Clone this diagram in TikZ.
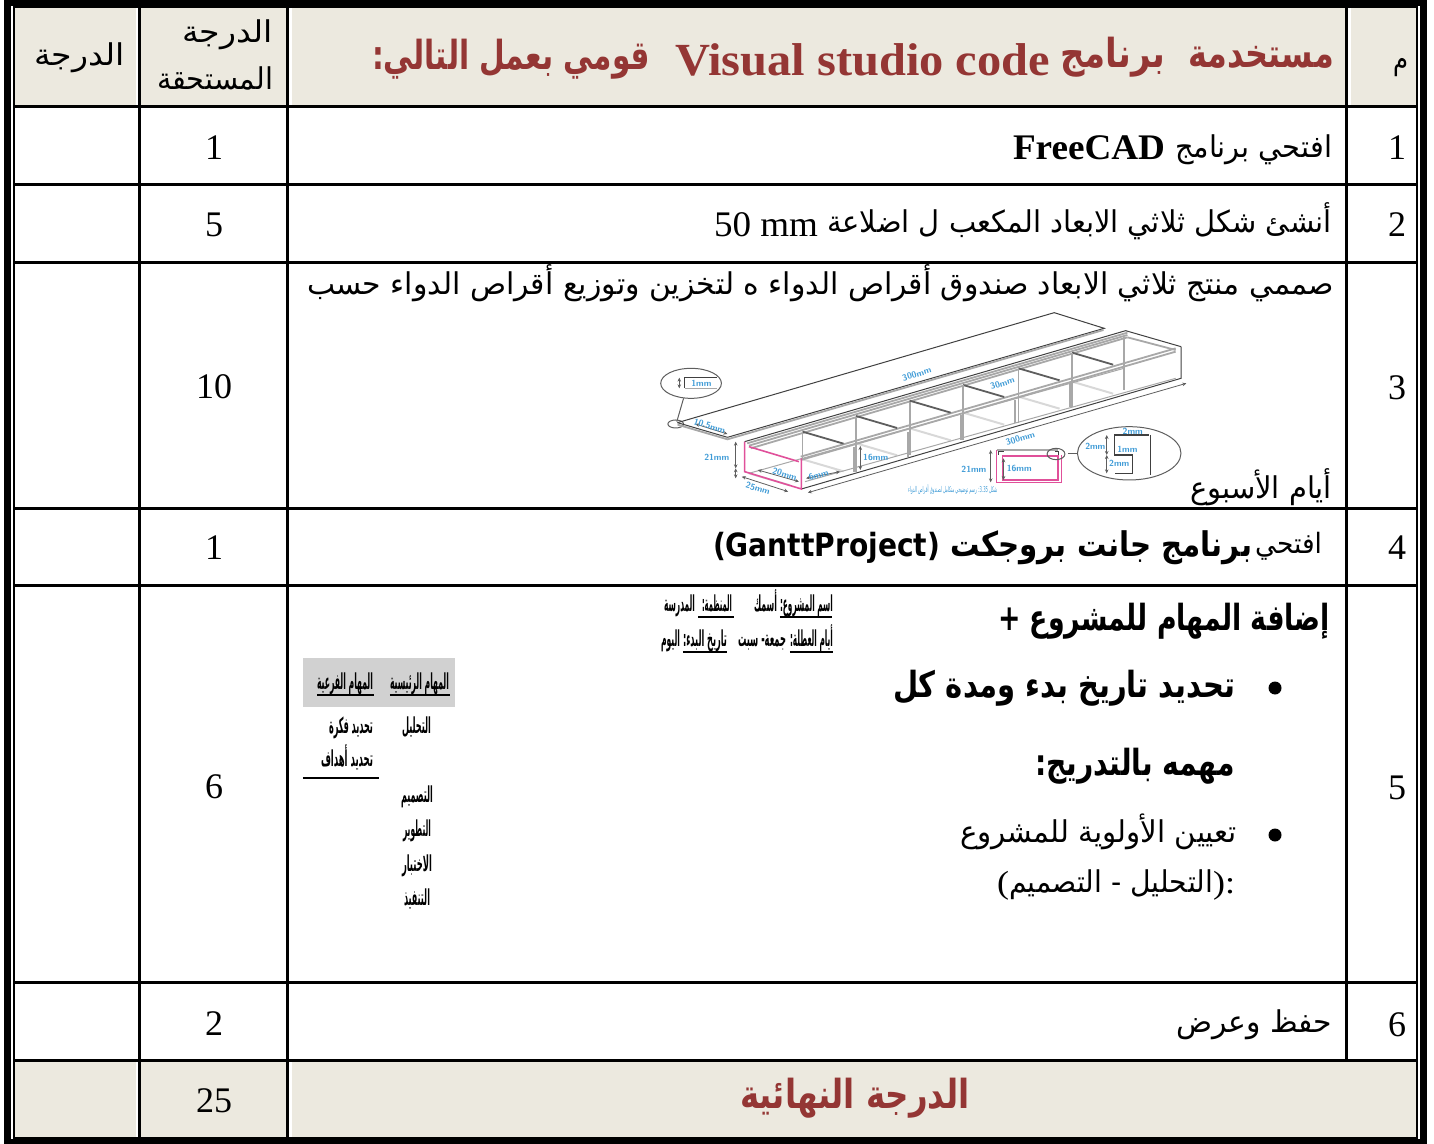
\documentclass[tikz,border=0pt]{standalone}
\usepackage{fontspec}
\usepackage{graphicx}
\usetikzlibrary{arrows.meta}
\setmainfont{Liberation Serif}
\newfontfamily\arabicfont[Script=Arabic]{DejaVu Sans}
\newfontfamily\ganttfont{DejaVu Sans}
\TeXXeTstate=1
\newlength\pxu \pxu=0.5pt
\definecolor{headfill}{HTML}{ECE9DF}
\definecolor{titlered}{HTML}{943634}
\definecolor{dimblue}{HTML}{3F9BD6}
\definecolor{boxpink}{HTML}{E0509A}
\definecolor{boxgrey}{HTML}{A8A8A8}
\definecolor{boxpale}{HTML}{D8D8D8}
\definecolor{boxdark}{HTML}{5E5E5E}
% #1 width in px, #2 font size in pt, #3 text
\newcommand\arw[3]{\resizebox{#1\pxu}{\height}{\fontsize{#2pt}{#2pt}\selectfont\arabicfont #3}}
\newcommand\arb[3]{\resizebox{#1\pxu}{\height}{\fontsize{#2pt}{#2pt}\selectfont\arabicfont\bfseries #3}}
\newcommand\lat[3]{\resizebox{#1\pxu}{\height}{\fontsize{#2pt}{#2pt}\selectfont #3}}
\newcommand\smar[2]{\arb{#1}{11}{#2}}
\tikzset{
  txt/.style={inner sep=0pt,outer sep=0pt,anchor=base west},
  num/.style={inner sep=0pt,outer sep=0pt,anchor=base,font=\fontsize{18pt}{18pt}\selectfont},
  grid/.style={line width=1.5pt,black},
  dim/.style={font=\fontsize{4.4pt}{5pt}\selectfont\bfseries\sffamily,text=dimblue,inner sep=0pt},
  dimline/.style={draw=boxdark,line width=0.4pt,{Stealth[length=2pt,width=1.8pt]}-{Stealth[length=2pt,width=1.8pt]}},
  thin1/.style={draw=boxgrey,line width=0.5pt},
  thin2/.style={draw=boxgrey,line width=0.9pt},
  pale/.style={draw=boxpale,line width=1pt},
  divider/.style={draw=boxdark,line width=0.9pt},
  outlinek/.style={draw=black!75,line width=0.5pt},
  pinkl/.style={draw=boxpink,line width=0.8pt},
  dotb/.style={circle,fill=black,inner sep=0pt,minimum size=6.5pt}
}
\begin{document}
\begin{tikzpicture}[x=0.5pt,y=-0.5pt]
\useasboundingbox (0,0) rectangle (1434,1144);
% fills
\fill[headfill] (15,8) rectangle (136,105);
\fill[headfill] (141,8) rectangle (286,105);
\fill[headfill] (292,8) rectangle (1345,105);
\fill[headfill] (1351,8) rectangle (1416,105);
\fill[headfill] (15,1062) rectangle (136,1137);
\fill[headfill] (141,1062) rectangle (286,1137);
\fill[headfill] (292,1062) rectangle (1416,1137);
% frame
\draw[black,line width=3.5pt] (7.5,2.5) rectangle (1423.5,1142.5);
\draw[black,line width=1pt] (14,7) rectangle (1417,1138);
% grid
\foreach \yy in {106.5,185,263,508,585,982,1060.5} \draw[grid] (14,\yy) -- (1417,\yy);
\foreach \xx in {139.5,287.5} \draw[grid] (\xx,7) -- (\xx,1138);
\draw[grid] (1346.5,7) -- (1346.5,1060);
% first column text
\node[txt] (hA) at (34,66) {\arw{91}{15}{\beginR الدرجة\endR}};
\node[txt] (hB1) at (182,43) {\arw{91}{15}{\beginR الدرجة\endR}};
\node[txt] (hB2) at (157,90) {\arw{116}{15}{\beginR المستحقة\endR}};
\node[txt] (hM) at (1393,70) {\arw{15}{15}{\beginR م\endR}};
% title
\begin{scope}[text=titlered,color=titlered]
\node[txt] (t1) at (1188,68) {\arb{146}{20}{\beginR مستخدمة\endR}};
\node[txt] (t2) at (1060,68) {\arb{105}{20}{\beginR برنامج\endR}};
\node[txt] (t3) at (675,76) {\lat{375}{23}{\bfseries Visual studio code}};
\node[txt] (t4) at (372,70) {\arb{278}{20}{\beginR قومي بعمل التالي:\endR}};
\node[txt] (tf) at (740,1108) {\arb{230}{20}{\beginR الدرجة النهائية\endR}};
\end{scope}
% row numbers
\foreach \n/\yy in {1/160,2/237,3/400,4/559,5/799,6/1036} \node[num] (idx\n) at (1397,\yy) {\n};
\node[num] (gA) at (214,160) {1};
\node[num] (gB) at (214,237) {5};
\node[num] (gC) at (214,399) {10};
\node[num] (gD) at (214,559) {1};
\node[num] (gE) at (214,798) {6};
\node[num] (gF) at (214,1035) {2};
\node[num] (gG) at (214,1112) {25};
% rows
\node[txt] (r1a) at (1175,158) {\arw{157}{15}{\beginR افتحي برنامج\endR}};
\node[txt] (r1b) at (1013,160) {\lat{152}{18}{\bfseries FreeCAD}};
\node[txt] (r2a) at (827,233) {\arw{505}{15}{\beginR أنشئ شكل ثلاثي الابعاد المكعب ل اضلاعة\endR}};
\node[txt] (r2b) at (714,237) {\lat{104}{18}{50 mm}};
\node[txt] (r3a) at (307,295) {\arw{1027}{15}{\beginR صممي منتج ثلاثي الابعاد صندوق أقراص الدواء ه لتخزين وتوزيع أقراص الدواء حسب\endR}};
\node[txt] (r3b) at (1190,498) {\arw{142}{15}{\beginR أيام الأسبوع\endR}};
\node[txt] (r4a) at (1255,553) {\arw{67}{14}{\beginR افتحي\endR}};
\node[txt] (r4b) at (950,556) {\arb{302}{17}{\beginR برنامج جانت بروجكت\endR}};
\node[txt] (r4c) at (713,556) {\lat{227}{16}{\ganttfont\bfseries (GanttProject)}};
\node[txt] (r5a) at (998,630) {\arb{332}{18}{\beginR إضافة المهام للمشروع +\endR}};
\node[dotb] (b1) at (1275,688) {};
\node[txt] (r5b) at (893,697) {\arb{342}{18}{\beginR تحديد تاريخ بدء ومدة كل\endR}};
\node[txt] (r5c) at (1035,775) {\arb{200}{18}{\beginR مهمه بالتدريج:\endR}};
\node[dotb] (b2) at (1275,835) {};
\node[txt] (r5d) at (960,842) {\arw{277}{15}{\beginR تعيين الأولوية للمشروع\endR}};
\node[txt] (r5e1) at (997,893) {\lat{12}{16}{(}};
\node[txt] (r5e2) at (1009,892) {\arw{204}{15}{\beginR التحليل - التصميم\endR}};
\node[txt] (r5e3) at (1213,893) {\lat{22}{16}{):}};
\node[txt] (r6a) at (1176,1032) {\arw{156}{15}{\beginR حفظ وعرض\endR}};
% small image text, row 5 (top)
\begin{scope}[shift={(290,590)},x=0.5pt/2.8,y=-0.5pt/3]
\fill[black!18] (36,203) rectangle (463,352);
\foreach \a/\b/\yy in {1372/1518/80,1143/1243/80,1400/1520/185,1100/1223/185,280/448/316,76/235/316,36/248/565} \draw[line width=1pt] (\a,\yy) -- (\b,\yy);
\end{scope}
\node[txt] (s1) at (780,611) {\smar{53}{\beginR اسم المشروع:\endR}};
\node[txt] (s2) at (754,611) {\smar{23}{\beginR أسمك\endR}};
\node[txt] (s3) at (702,611) {\smar{30}{\beginR المنظمة:\endR}};
\node[txt] (s4) at (664,611) {\smar{31}{\beginR المدرسة\endR}};
\node[txt] (s5) at (790,646) {\smar{43}{\beginR أيام العطلة:\endR}};
\node[txt] (s6) at (738,646) {\smar{48}{\beginR جمعة- سبت\endR}};
\node[txt] (s7) at (683,646) {\smar{44}{\beginR تاريخ البدء:\endR}};
\node[txt] (s8) at (661,646) {\smar{19}{\beginR اليوم\endR}};
\node[txt] (s9) at (390,689) {\smar{59}{\beginR المهام الرئيسية\endR}};
\node[txt] (s10) at (317,689) {\smar{56}{\beginR المهام الفرعية\endR}};
\node[txt] (s11) at (402,733) {\smar{29}{\beginR التحليل\endR}};
\node[txt] (s12) at (329,733) {\smar{44}{\beginR تحديد فكرة\endR}};
\node[txt] (s13) at (321,766) {\smar{52}{\beginR تحديد أهداف\endR}};
\node[txt] (s14) at (401,802) {\smar{32}{\beginR التصميم\endR}};
\node[txt] (s15) at (403,836) {\smar{28}{\beginR التطوير\endR}};
\node[txt] (s16) at (402,871) {\smar{30}{\beginR الاختبار\endR}};
\node[txt] (s17) at (404,905) {\smar{26}{\beginR التنفيذ\endR}};
% box picture
\begin{scope}[shift={(640,300)},x=0.5pt/2.8,y=-0.5pt/3]
% callout left
\draw[thin1,draw=boxdark] (143,250) ellipse (85 and 45);
\draw[thin1,draw=boxdark] (122,295) -- (103,365);
\draw[thin1,draw=boxdark] (100,372) ellipse (22 and 12);
\draw[dimline] (110,233) -- (110,265);
\draw[outlinek] (215,232) -- (125,232) -- (125,265);
\draw[thin1] (125,265) -- (215,265);
\node[dim] (l1) at (172,250) {1mm};
% lid
\draw[outlinek] (105,368) -- (1160,38) -- (1300,85) -- (245,412);
\draw[thin2] (105,374) -- (245,418) -- (1298,90);
\draw[outlinek] (105,368) -- (245,412);
\draw[dimline] (155,372) -- (245,402);
\node[dim,rotate=-17] (l2) at (195,378) {10.5mm};
\node[dim,rotate=17] (l3) at (775,222) {300mm};
% floor lines
\foreach \a/\b in {305/520,455/478,605/430,755/385,905/338,1060/290,1210/245}
  \draw[pale] (\a,\b) -- ++(115,36);
\draw[thin1] (305,520) -- (1355,205);
% rails
\draw[thin2] (300,430) -- (1365,98);
\draw[thin2] (305,437) -- (1365,105);
\draw[thin2] (310,445) -- (1365,112);
\draw[outlinek] (293,425) -- (1360,92) -- (1515,140);
\draw[thin2] (1365,112) -- (1500,150);
\draw[thin2] (450,470) -- (1500,145);
\draw[thin2] (450,480) -- (1500,155);
% dividers
\foreach \a/\b in {455/395,605/348,755/302,905/255,1060/205,1210/158}
  \draw[divider] (\a,\b) -- ++(115,36);
% posts
\foreach \a/\b/\c in {455/395/480,605/350/515,755/305/465,905/255/420,1060/205/370,1210/158/320,1355/110/270}
  \draw[thin2] (\a,\b) -- (\a,\c);
\foreach \a/\b/\c in {600/440/515,750/395/470,900/345/420,1050/300/370,1205/250/320}
  \draw[thin2] (\a,\b) -- (\a,\c);
% outer front
\draw[outlinek] (452,567) -- (1515,235) -- (1515,140);
\draw[thin1] (462,545) -- (1500,235);
\draw[dimline] (470,578) -- (1530,250);
\node[dim,rotate=17] (l4) at (1065,415) {300mm};
\node[dim,rotate=17] (l5) at (1015,250) {30mm};
% pink front
\draw[pinkl] (293,425) -- (293,515) -- (452,567) -- (452,475);
\draw[pinkl] (305,440) -- (445,485);
\draw[dimline] (268,425) -- (268,505);
\draw[dimline] (268,505) -- (268,535);
\node[dim] (l6) at (215,472) {21mm};
\draw[dimline] (617,438) -- (617,510);
\node[dim] (l7) at (660,472) {16mm};
\draw[dimline] (330,510) -- (445,545);
\node[dim,rotate=-17] (l8) at (405,522) {20mm};
\draw[dimline] (465,535) -- (560,515);
\node[dim,rotate=17] (l9) at (500,525) {6mm};
\draw[dimline] (285,530) -- (415,575);
\node[dim,rotate=-17] (l10) at (330,565) {25mm};
% section
\draw[thin2] (1000,450) -- (1170,450);
\draw[pinkl] (998,450) -- (998,547) -- (1180,547) -- (1180,465);
\draw[pinkl] (1015,468) -- (1170,468) -- (1170,540) -- (1015,540) -- cycle;
\draw[outlinek] (1005,465) -- (1005,455) -- (1018,455);
\draw[outlinek] (1162,455) -- (1172,455) -- (1172,465);
\draw[dimline] (982,450) -- (982,547);
\node[dim] (l11) at (935,508) {21mm};
\draw[dimline] (1018,475) -- (1018,540);
\node[dim] (l12) at (1062,505) {16mm};
\draw[thin1,draw=boxdark] (1165,462) ellipse (25 and 17);
\draw[thin1,draw=boxdark] (1198,460) -- (1225,460);
\draw[thin1,draw=boxdark] (1370,460) ellipse (145 and 80);
\draw[outlinek,line width=0.6pt] (1425,405) -- (1328,405) -- (1328,465) -- (1380,465) -- (1380,520) -- (1330,520);
\draw[outlinek,line width=0.6pt] (1430,405) -- (1430,525);
\draw[dimline] (1307,405) -- (1307,465);
\draw[dimline] (1307,465) -- (1307,520);
\node[dim] (l13) at (1380,393) {2mm};
\node[dim] (l14) at (1275,440) {2mm};
\node[dim] (l15) at (1365,447) {1mm};
\node[dim] (l16) at (1342,490) {2mm};
\node[inner sep=0pt,anchor=base west] (cap) at (750,578) {\resizebox{89\pxu}{\height}{\fontsize{4pt}{4pt}\selectfont\color{dimblue}\arabicfont\beginR شكل 3.35: رسم توضيحي متكامل لصندوق أقراص الدواء\endR}};
\end{scope}
\end{tikzpicture}
\end{document}
